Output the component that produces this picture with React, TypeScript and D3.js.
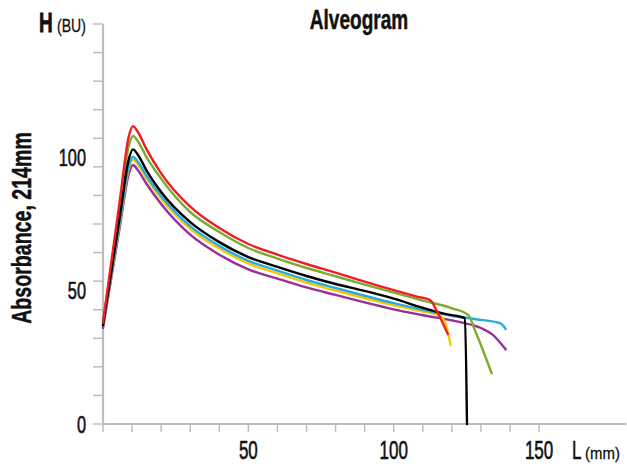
import React from "react";
import * as d3 from "d3";

type Pt = [number, number];

const seriesNames = ["Red", "Green", "Black", "Blue", "Yellow", "Purple"];
const seriesColors = ["#ee1d23", "#7cab2f", "#000000", "#27a9e1", "#f7c600", "#992d99"];

const red: Pt[] = [[0,38],[3,61.8],[6,85.6],[8.8,107.5],[10.3,111.7],[12,109.5],[15,103],[20,94],[30,81.5],[40,73.5],[50,67.5],[60,63.5],[70,60],[80,56.8],[90,53.4],[100,50.2],[108,47.8],[112.5,46.5],[115,42],[118.6,33.7]];
const green: Pt[] = [[0,38],[3,60.6],[6,83.2],[8.8,104],[10.3,108],[12,106],[15,100],[20,92],[30,79.5],[40,72],[50,66],[60,62],[70,58.5],[80,55.4],[90,52.3],[100,49.3],[110,46.3],[120,43.4],[125.6,40.9],[128,35],[133.7,19]];
const black: Pt[] = [[0,37],[3,58.1],[6,79.3],[8.8,99],[10.3,103],[12,101],[15,95],[20,87],[30,75.7],[40,68.2],[50,62.6],[60,58.9],[70,55.5],[80,52.5],[90,49.9],[100,47],[110,43.6],[118,41.2],[124.5,39.7],[125.2,0]];
const blue: Pt[] = [[0,37],[3,57.3],[6,77.6],[8.8,96.5],[10.3,100.2],[12,98.3],[15,93],[20,85.5],[30,74.2],[40,66.8],[50,61.2],[60,57.5],[70,54],[80,51],[90,48.1],[100,45.3],[110,42.8],[120,40.6],[128.3,39.3],[136.6,37.8],[138.5,35.6]];
const yellow: Pt[] = [[0,37],[3,56.9],[6,76.9],[8.8,95.5],[10.3,99.2],[12,97.3],[15,92],[20,84.5],[30,73.2],[40,65.8],[50,60.2],[60,56.5],[70,53],[80,50],[90,47.2],[100,44.5],[110,42.2],[116,40.6],[118,37],[119.6,29.6]];
const purple: Pt[] = [[0,36],[3,55.7],[6,75.4],[8.8,93.5],[10.3,97.1],[12,95.2],[15,90],[20,82.5],[30,71],[40,63.5],[50,58],[60,54.5],[70,51.2],[80,48.4],[90,45.6],[100,43],[110,40.8],[122.8,38.2],[130,36],[134,33.5],[138.5,28]];

const allSeries: Pt[][] = [red, green, black, blue, yellow, purple];
const drawOrder = [5, 4, 3, 1, 2, 0];

const xTicks = d3.range(0, 151, 10);
const xLabels = [50, 100, 150];
const yMax = 150;
const yTickDivisions = 14;
const yLabels = [0, 50, 100];

const FONT = "'Liberation Sans', Arial, sans-serif";
const SX = 0.68;

function CText(props: {
  x: number;
  y: number;
  size: number;
  anchor?: "start" | "middle" | "end";
  bold?: boolean;
  rotate?: number;
  sx?: number;
  thick?: number;
  children: React.ReactNode;
}) {
  const { x, y, size, anchor = "start", bold = false, rotate = 0, sx = SX, thick = 0, children } = props;
  return (
    <text
      transform={`translate(${x},${y}) rotate(${rotate}) scale(${sx},1)`}
      textAnchor={anchor}
      fontSize={size}
      fontWeight={bold ? "bold" : "normal"}
      fill="#111"
      stroke={thick ? "#111" : "none"}
      strokeWidth={thick}
    >
      {children}
    </text>
  );
}

export default function App() {
  const W = 627, H = 464;
  const x = d3.scaleLinear().domain([0, 180]).range([103, 626.3]);
  const y = d3.scaleLinear().domain([0, yMax]).range([424, 24]);
  const yTicks = d3.range(0, yTickDivisions + 1).map((i) => (i * yMax) / yTickDivisions);
  const line = d3
    .line<Pt>()
    .x((d) => x(d[0]))
    .y((d) => y(d[1]))
    .curve(d3.curveMonotoneX);
  const axisColor = "#bdbdbd";

  return (
    <svg
      width={W}
      height={H}
      style={{ position: "absolute", left: 0, top: 0, background: "#fff" }}
      fontFamily={FONT}
    >
      <line x1={x(0)} x2={x(180)} y1={y(0)} y2={y(0)} stroke={axisColor} strokeWidth={2.2} />
      <line x1={x(0)} x2={x(0)} y1={y(0)} y2={y(yMax)} stroke={axisColor} strokeWidth={2.2} />
      {yTicks.map((t, i) => (
        <line key={"yt" + i} x1={x(0) - 10} x2={x(0)} y1={y(t)} y2={y(t)} stroke={axisColor} strokeWidth={1.5} />
      ))}
      {xTicks.map((t) => (
        <line key={"xt" + t} x1={x(t)} x2={x(t)} y1={y(0)} y2={y(0) + 8} stroke={axisColor} strokeWidth={1.5} />
      ))}
      {yLabels.map((t) => (
        <CText key={"yl" + t} x={86} y={y(t) + 8.5} size={24} anchor="end" thick={0.6}>
          {t}
        </CText>
      ))}
      {xLabels.map((t) => (
        <CText key={"xl" + t} x={x(t)} y={459} size={25} anchor="middle" thick={0.6}>
          {t}
        </CText>
      ))}
      <CText x={572} y={459} size={25} thick={0.6}>
        L
      </CText>
      <CText x={585} y={459} size={17} sx={0.88} thick={0.3}>
        (mm)
      </CText>
      <CText x={39} y={32} size={28} bold thick={0.8}>
        H
      </CText>
      <CText x={57} y={32} size={19} sx={0.74} thick={0.3}>
        (BU)
      </CText>
      <CText x={359} y={29} size={28} anchor="middle" bold thick={0.5}>
        Alveogram
      </CText>
      <CText x={31} y={228} size={28} anchor="middle" bold rotate={-90} sx={0.7} thick={0.5}>
        Absorbance, 214mm
      </CText>
      {drawOrder.map((i) => (
        <path
          key={seriesNames[i]}
          d={line(allSeries[i]) || ""}
          fill="none"
          stroke={seriesColors[i]}
          strokeWidth={2.4}
          strokeLinejoin="round"
          strokeLinecap="round"
        />
      ))}
    </svg>
  );
}
